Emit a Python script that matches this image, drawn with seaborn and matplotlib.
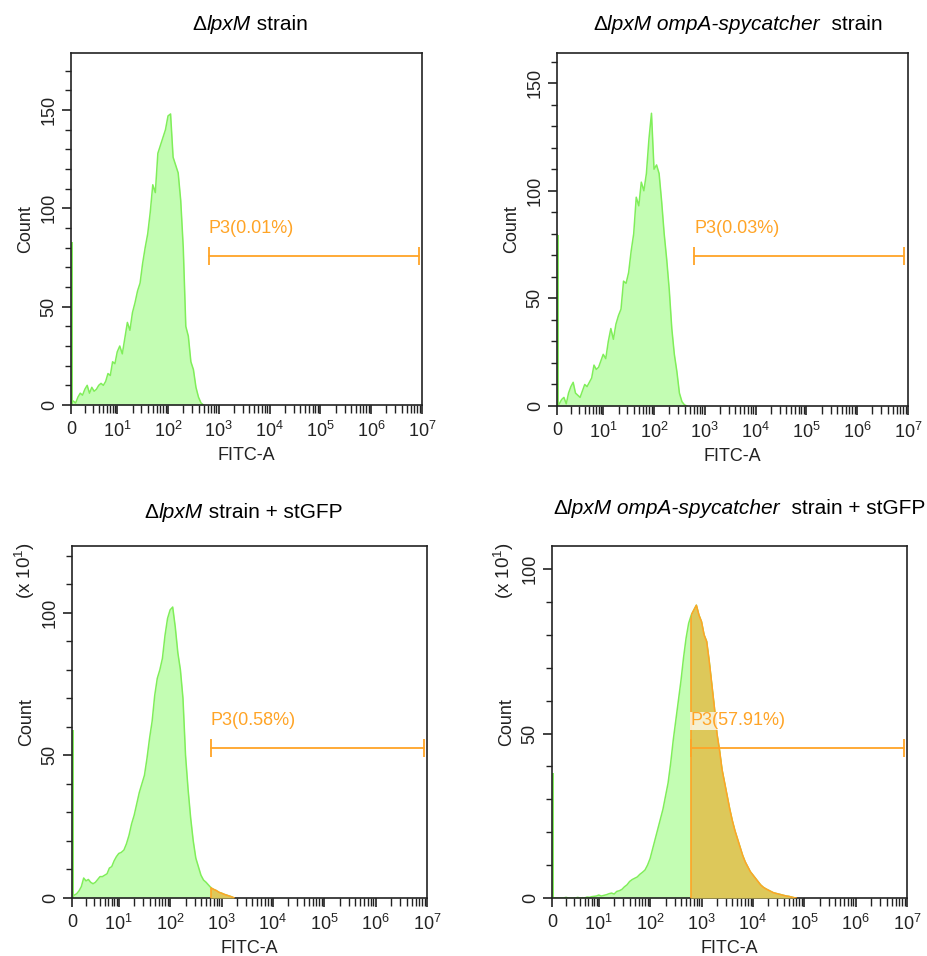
import numpy as np
import matplotlib
matplotlib.use("Agg")
import matplotlib.pyplot as plt
import seaborn as sns
from matplotlib.patches import Rectangle
from matplotlib.transforms import blended_transform_factory, IdentityTransform

# ---------------- data ----------------
FITC_LOG_BINS = [0.00, 0.05, 0.10, 0.15, 0.20, 0.25, 0.30, 0.35, 0.40, 0.45,
                 0.50, 0.55, 0.60, 0.65, 0.70, 0.75, 0.80, 0.85, 0.90, 0.95,
                 1.00, 1.05, 1.10, 1.15, 1.20, 1.25, 1.30, 1.35, 1.40, 1.45,
                 1.50, 1.55, 1.60, 1.65, 1.70, 1.75, 1.80, 1.85, 1.90, 1.95,
                 2.00, 2.05, 2.10, 2.15, 2.20, 2.25, 2.30, 2.35, 2.40, 2.45,
                 2.50, 2.55, 2.60, 2.65, 2.70, 2.75, 2.80, 2.85, 2.90, 2.95,
                 3.00, 3.05, 3.10, 3.15, 3.20, 3.25, 3.30, 3.35, 3.40, 3.45,
                 3.50, 3.55, 3.60, 3.65, 3.70, 3.75, 3.80, 3.85, 3.90, 3.95,
                 4.00, 4.05, 4.10, 4.15, 4.20, 4.25, 4.30, 4.35, 4.40, 4.45,
                 4.50, 4.55, 4.60, 4.65, 4.70, 4.75, 4.80, 4.85]

tl_counts = [2, 2, 1, 4, 6, 5, 8, 10, 6, 9,
             7, 8, 10, 11, 10, 12, 16, 15, 22, 21,
             27, 30, 26, 34, 42, 38, 47, 52, 58, 62,
             72, 80, 87, 98, 112, 108, 128, 132, 136, 140,
             147, 148, 126, 122, 118, 104, 80, 40, 35, 22,
             18, 9, 4, 1, 0]

tr_counts = [0, 1, 3, 4, 1, 6, 9, 11, 6, 5,
             4, 7, 10, 9, 11, 13, 19, 17, 18, 21,
             24, 22, 30, 36, 31, 38, 42, 45, 58, 57,
             62, 72, 80, 97, 93, 104, 100, 108, 124, 136,
             110, 112, 108, 95, 80, 68, 54, 36, 24, 16,
             6, 2, 0.5, 0]

bl_counts = [1, 1, 1.5, 2.5, 4, 7, 6, 6.5, 5.5, 5,
             5.5, 6.5, 7.5, 7.5, 8, 8.5, 10.5, 11, 13, 14.5,
             15.6, 16, 16.8, 19, 22, 26, 29, 33, 37, 40,
             43, 49, 56, 62, 71, 77, 80, 84, 92, 98,
             101, 102, 95, 86, 80, 70, 50, 38, 28, 20,
             14, 11, 8, 6.3, 5.5, 4.5, 3.5, 3, 2.6, 2,
             1.7, 1.3, 1, 0.7, 0.4, 0]

br_counts = [0, 0, 0, 0, 0, 0, 0.2, 0, 0, 0,
             0, 0.2, 0, 0.1, 0, 0.3, 0.2, 0.4, 0.5, 0.6,
             0.9, 0.6, 0.8, 1.0, 1.3, 1.5, 1.2, 2.0, 2.2, 2.6,
             3.4, 4.0, 5.0, 5.6, 6.0, 6.4, 7.2, 7.8, 8.5, 10.0,
             12, 15, 18, 21, 24, 27, 31, 35, 41, 48,
             54, 60, 66, 73, 79, 83.5, 86, 87.5, 89, 86,
             84, 80, 78, 72, 65, 58, 50, 45, 39, 35,
             31, 27, 23.5, 20.5, 18, 15.5, 13, 11, 9.5, 8,
             7, 6, 5, 4, 3.3, 2.8, 2.4, 2, 1.6, 1.4,
             1.2, 1, 0.8, 0.6, 0.5, 0.3, 0.1, 0]

panel_counts = [tl_counts, tr_counts, bl_counts, br_counts]
zero_bin_counts = [83, 79.5, 58.9, 37.9]

gate_low = [631, 621, 622, 611]
gate_high = [8.8e6, 8.45e6, 8.7e6, 8.7e6]
gate_level = [75.8, 69.7, 52.7, 45.6]
gate_labels = ["P3(0.01%)", "P3(0.03%)", "P3(0.58%)", "P3(57.91%)"]

y_max = [179, 164, 123.4, 107]
y_major = [[0, 50, 100, 150], [0, 50, 100, 150], [0, 50, 100], [0, 50, 100]]
y_scaled = [False, False, True, True]

x_tick_values = [1, 1e1, 1e2, 1e3, 1e4, 1e5, 1e6, 1e7]
x_tick_labels = ["0", "10$^{1}$", "10$^{2}$", "10$^{3}$", "10$^{4}$",
                 "10$^{5}$", "10$^{6}$", "10$^{7}$"]

titles = [
    [("Δ", "normal"), ("lpxM", "italic"), (" strain", "normal")],
    [("Δ", "normal"), ("lpxM ompA-spycatcher", "italic"), ("  strain", "normal")],
    [("Δ", "normal"), ("lpxM", "italic"), (" strain + stGFP", "normal")],
    [("Δ", "normal"), ("lpxM ompA-spycatcher", "italic"), ("  strain + stGFP", "normal")],
]

# ---------------- style ----------------
sns.set_style("ticks")
plt.rcParams["font.family"] = ["Liberation Sans", "DejaVu Sans"]
plt.rcParams["mathtext.fontset"] = "custom"
plt.rcParams["mathtext.rm"] = "Liberation Sans"
plt.rcParams["mathtext.it"] = "Liberation Sans:italic"
plt.rcParams["mathtext.bf"] = "Liberation Sans:bold"

GREEN_FILL = "#C3FDB3"
GREEN_LINE = "#80EE5A"
ORANGE = "#FFA426"
ORANGE_FILL = "#DDC85A"
INK = "#222222"

W, H = 927, 956
# axes boxes in pixels: left, top, right, bottom
boxes = [(71, 53, 422, 405), (557, 53, 908, 406), (72, 546, 427, 898), (552, 546, 907, 898)]
title_pos = [(250, 25), (738, 25), (243.5, 512), (739, 509)]
xscale_pos = [None, None, (25, 571), (504, 571)]

K = 0.91  # compression of the first decade


def fwd(x):
    x = np.asarray(x, dtype=float)
    lx = np.log10(np.clip(x, 1e-6, None))
    return np.where(lx >= 1, lx, 1 - K * (1 - lx))


def inv(y):
    y = np.asarray(y, dtype=float)
    return np.where(y >= 1, 10.0 ** y, 10.0 ** (1 - (1 - y) / K))


fig = plt.figure(figsize=(W / 100, H / 100), dpi=100)
renderer = fig.canvas.get_renderer()

for i in range(4):
    l, t, r, b = boxes[i]
    ax = fig.add_axes([l / W, 1 - b / H, (r - l) / W, (b - t) / H])
    ax.set_xscale("function", functions=(fwd, inv))
    counts = np.asarray(panel_counts[i], dtype=float)
    x = 10.0 ** np.asarray(FITC_LOG_BINS[:len(counts)])

    poly = ax.fill_between(x, counts, color=GREEN_FILL, lw=0, zorder=1)
    sns.lineplot(x=x, y=counts, ax=ax, color=GREEN_LINE, lw=1.1,
                 estimator=None, sort=False, zorder=2)
    ax.vlines(1.07, 0, zero_bin_counts[i], color=GREEN_LINE, lw=1.4, zorder=2)

    # gated region
    clip = Rectangle((gate_low[i], 0), 1e9, 1,
                     transform=blended_transform_factory(ax.transData, ax.transAxes))
    ofill = ax.fill_between(x, counts, color=ORANGE_FILL, lw=0, zorder=3)
    ofill.set_clip_path(clip)
    sns.lineplot(x=x, y=counts, ax=ax, color=ORANGE, lw=1.1,
                 estimator=None, sort=False, zorder=4)
    ax.lines[-1].set_clip_path(clip)
    vb, = ax.plot([gate_low[i], gate_low[i]], [0, y_max[i]], color=ORANGE, lw=1.2, zorder=4)
    vb.set_clip_path(poly.get_paths()[0], poly.get_transform())

    ax.plot([gate_low[i], gate_high[i]], [gate_level[i], gate_level[i]], color=ORANGE,
            lw=1.3, marker="|", markersize=13, mew=1.3, zorder=5)
    ax.annotate(gate_labels[i], xy=(gate_low[i], gate_level[i]), xytext=(0, 27),
                textcoords="offset pixels", ha="left", va="center", color=ORANGE,
                fontsize=13, zorder=6,
                bbox=dict(boxstyle="square,pad=0.05", fc="white", ec="none", alpha=0.72))

    ax.set_xlim(1, 1e7)
    ax.set_ylim(0, y_max[i])
    ax.set_xticks(x_tick_values)
    ax.set_xticklabels(x_tick_labels)
    ax.set_xticks([m * 10.0 ** d for d in range(7) for m in range(2, 10)], minor=True)
    ax.set_yticks(y_major[i])
    ax.set_yticks(np.arange(0, y_max[i], 10), minor=True)
    ax.tick_params(axis="x", which="major", length=6.5, width=1.2, pad=5,
                   labelsize=13, colors=INK, direction="out")
    ax.tick_params(axis="x", which="minor", length=5.5, width=1.0, direction="out", colors=INK)
    ax.tick_params(axis="y", which="major", length=6.5, width=1.2, pad=3,
                   labelsize=13, colors=INK, direction="out")
    ax.tick_params(axis="y", which="minor", length=4.3, width=1.0, direction="out", colors=INK)
    plt.setp(ax.get_yticklabels(), rotation=90, va="center")
    for sp in ax.spines.values():
        sp.set_visible(True)
        sp.set_color(INK)
        sp.set_linewidth(1.2)
    ax.set_xlabel("FITC-A", fontsize=13, color=INK, labelpad=4)
    ax.set_ylabel("Count", fontsize=13, color=INK, labelpad=5)

    # title made of upright / italic pieces
    cx, cy = title_pos[i]
    pieces = []
    widths = []
    for s, style in titles[i]:
        tt = fig.text(0, 0, s, fontsize=15, fontstyle=style, color="black",
                      transform=IdentityTransform(), va="center", ha="left")
        widths.append(tt.get_window_extent(renderer).width)
        pieces.append(tt)
    x0 = cx - sum(widths) / 2
    for tt, wdt in zip(pieces, widths):
        tt.set_position((x0, H - cy))
        x0 += wdt

    if y_scaled[i]:
        sx, sy = xscale_pos[i]
        fig.text(sx, H - sy, "(x 10$^{1}$)", fontsize=13.5, rotation=90, ha="center",
                 va="center", color=INK, transform=IdentityTransform())

fig.savefig("out.png", dpi=100)
